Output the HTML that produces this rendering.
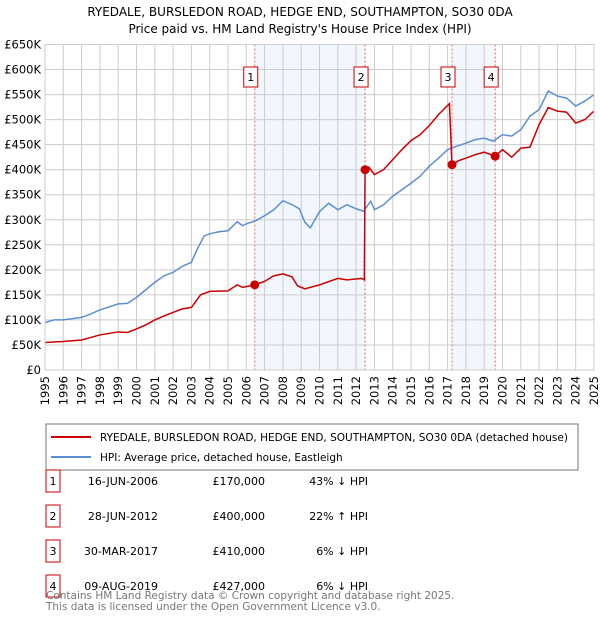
<!DOCTYPE html>
<html><head><meta charset="utf-8"><style>
body{margin:0;background:#fff;font-family:"DejaVu Sans","Liberation Sans",sans-serif;}
svg text{font-family:"DejaVu Sans","Liberation Sans",sans-serif;}
</style></head><body>
<svg id="c" width="600" height="620" xmlns="http://www.w3.org/2000/svg">
<text x="300" y="16" text-anchor="middle" font-size="12">RYEDALE, BURSLEDON ROAD, HEDGE END, SOUTHAMPTON, SO30 0DA</text>
<text x="300" y="33" text-anchor="middle" font-size="12">Price paid vs. HM Land Registry's House Price Index (HPI)</text>
<g id="plot"></g>
<rect x="46" y="424" width="532" height="46" fill="none" stroke="#777"/>
<line x1="51" y1="437" x2="91" y2="437" stroke="#cc0000" stroke-width="2"/>
<text x="100" y="441" font-size="10.5">RYEDALE, BURSLEDON ROAD, HEDGE END, SOUTHAMPTON, SO30 0DA (detached house)</text>
<line x1="51" y1="457" x2="91" y2="457" stroke="#5b8fd0" stroke-width="2"/>
<text x="100" y="461" font-size="10.5">HPI: Average price, detached house, Eastleigh</text>
<g id="table" font-size="11"></g>
<text x="46" y="599" font-size="10.5" fill="#777">Contains HM Land Registry data © Crown copyright and database right 2025.</text>
<text x="46" y="610" font-size="10.5" fill="#777">This data is licensed under the Open Government Licence v3.0.</text>
</svg>
<script>
const yTicks=[0,50,100,150,200,250,300,350,400,450,500,550,600,650];
const years=[1995,1996,1997,1998,1999,2000,2001,2002,2003,2004,2005,2006,2007,2008,2009,2010,2011,2012,2013,2014,2015,2016,2017,2018,2019,2020,2021,2022,2023,2024,2025];
const hpiX=[1995,1995.5,1996,1997,1997.5,1998,1998.5,1999,1999.5,2000,2000.5,2001,2001.5,2002,2002.5,2003,2003.3,2003.7,2004,2004.5,2005,2005.5,2005.8,2006,2006.5,2007,2007.5,2008,2008.5,2008.9,2009.2,2009.5,2010,2010.5,2011,2011.5,2012,2012.4,2012.8,2013,2013.5,2014,2014.5,2015,2015.5,2016,2016.5,2017,2017.5,2018,2018.5,2019,2019.5,2020,2020.5,2021,2021.5,2022,2022.5,2023,2023.5,2024,2024.5,2025];
const hpiY=[95,100,100,105,112,120,126,132,133,145,160,175,188,195,207,215,240,268,272,276,278,296,288,292,298,308,320,338,330,322,295,284,316,333,320,330,322,317,337,320,330,347,360,373,387,407,423,440,447,453,460,463,457,470,467,480,507,520,557,547,543,527,537,550];
const redX=[1995,1996,1997,1997.5,1998,1999,1999.5,2000,2000.5,2001,2001.5,2002,2002.5,2003,2003.5,2004,2005,2005.5,2005.8,2006.46,2007,2007.5,2008,2008.5,2008.8,2009.2,2010,2011,2011.5,2012.3,2012.45,2012.49,2012.7,2013,2013.5,2014,2014.5,2015,2015.5,2016,2016.5,2017.1,2017.24,2017.6,2018,2018.5,2019,2019.6,2020,2020.5,2021,2021.5,2022,2022.5,2023,2023.5,2024,2024.5,2025];
const redY=[55,57,60,65,70,76,75,82,90,100,108,115,122,125,150,157,158,170,165,170,177,188,192,186,168,162,170,183,180,183,180,400,405,390,400,420,440,458,470,488,510,532,410,418,423,430,435,427,440,425,443,445,490,524,517,515,493,500,517];
const saleX=[2006.46,2012.49,2017.24,2019.6];
const saleY=[170,400,410,427];
const saleLabels=["1","2","3","4"];
const saleDates=["16-JUN-2006","28-JUN-2012","30-MAR-2017","09-AUG-2019"];
const salePrices=["£170,000","£400,000","£410,000","£427,000"];
const saleHpi=["43% ↓ HPI","22% ↑ HPI","6% ↓ HPI","6% ↓ HPI"];
const NS="http://www.w3.org/2000/svg";
const X0=45,X1=594,Y0=370,Y1=44.5;
const sx=v=>X0+(v-1995)/30*(X1-X0);
const sy=v=>Y0-v/650*(Y0-Y1);
const plot=document.getElementById('plot');
function mk(t,a,p){const e=document.createElementNS(NS,t);for(const k in a)e.setAttribute(k,a[k]);(p||plot).appendChild(e);return e;}
let s1=mk('rect',{x:sx(saleX[0]),y:Y1,width:sx(saleX[1])-sx(saleX[0]),height:Y0-Y1,fill:'#f2f6fd'});


let s2=mk('rect',{x:sx(saleX[2]),y:Y1,width:sx(saleX[3])-sx(saleX[2]),height:Y0-Y1,fill:'#f2f6fd'});


yTicks.forEach(v=>{
 let l=mk('line',{x1:X0,x2:X1,y1:sy(v),y2:sy(v),stroke:'#ccc'});
 
 
 let t=mk('text',{x:X0-4,y:sy(v)+4,'text-anchor':'end','font-size':'11.5'});
 t.textContent=v===0?'£0':'£'+v+'K';
 
 
});
years.forEach(v=>{
 let l=mk('line',{x1:sx(v),x2:sx(v),y1:Y1,y2:Y0,stroke:'#ccc'});
 
 
 let t=mk('text',{x:0,y:0,'text-anchor':'end','font-size':'11.5',transform:`translate(${sx(v)+4},${Y0+6}) rotate(-90)`});
 t.textContent=v;
 
 
});
saleX.forEach((v,i)=>{
 let l=mk('line',{x1:sx(v),x2:sx(v),y1:Y1,y2:Y0,stroke:'#e66','stroke-dasharray':'2,2'});
 
 
 let r=mk('rect',{x:sx(v)-11,y:67,width:14,height:20,fill:'#fff',stroke:'#cc0000'});
 
 
 let t=mk('text',{x:sx(v)-4,y:81,'text-anchor':'middle','font-size':'11'});
 t.textContent=saleLabels[i];
 
 
});
let hp=mk('polyline',{points:hpiX.map((x,i)=>sx(x)+','+sy(hpiY[i])).join(' '),fill:'none',stroke:'#5b8fd0','stroke-width':1.5});


let rp=mk('polyline',{points:redX.map((x,i)=>sx(x)+','+sy(redY[i])).join(' '),fill:'none',stroke:'#cc0000','stroke-width':1.5});


saleX.forEach((v,i)=>{
 let c=mk('circle',{cx:sx(v),cy:sy(saleY[i]),r:4.5,fill:'#cc0000'});
 
 
});
let ax=mk('rect',{x:X0,y:Y1,width:X1-X0,height:Y0-Y1,fill:'none',stroke:'#ccc'});


const tb=document.getElementById('table');
saleLabels.forEach((s,i)=>{
 const cy=481+i*35;
 let r=mk('rect',{x:46,y:cy-11,width:14,height:22,fill:'#fff',stroke:'#cc0000'},tb);
 
 
 const cells=[[53,s,'middle'],[158,saleDates[i],'end'],[265,salePrices[i],'end'],[368,saleHpi[i],'end']];
 cells.forEach(c=>{
  let t=mk('text',{x:c[0],y:cy+4,'text-anchor':c[2]},tb);
  t.textContent=c[1];
  
  
 });
});
</script>
</body></html>
